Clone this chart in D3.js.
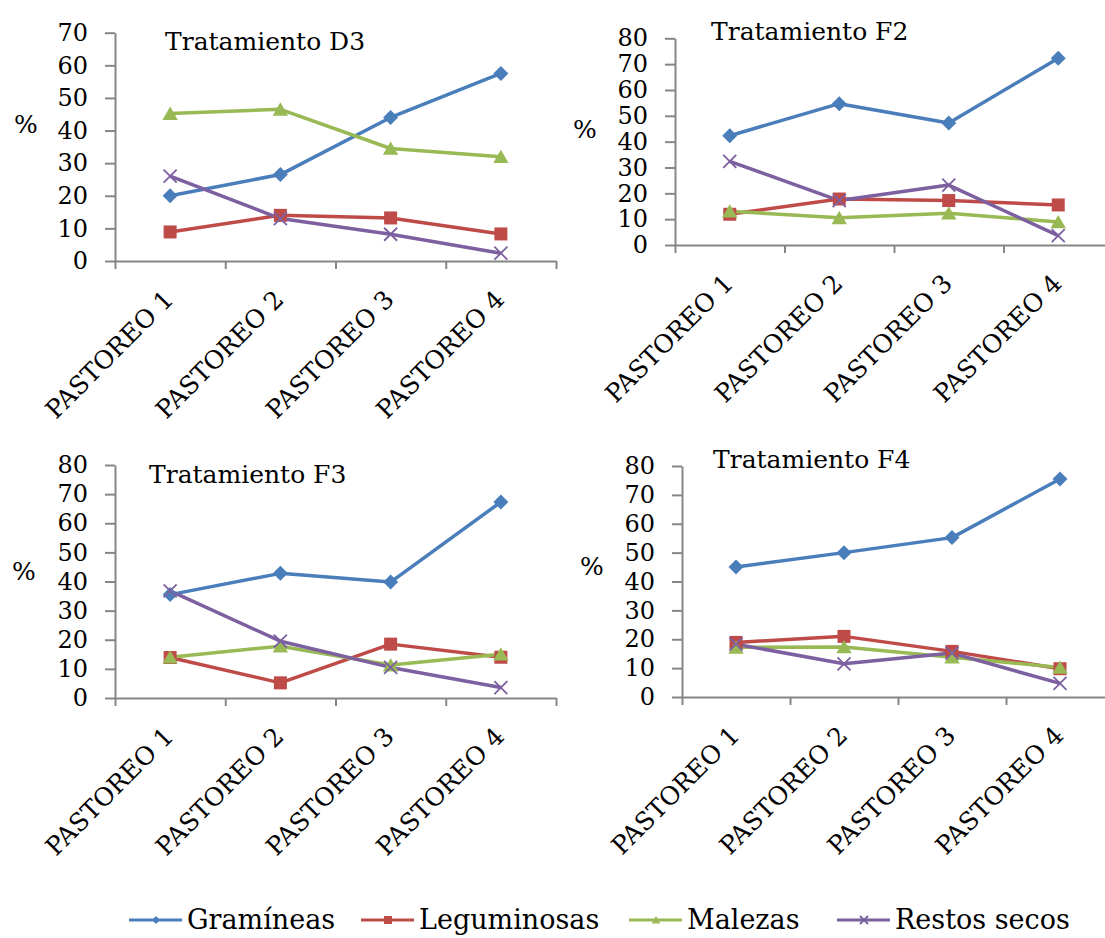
<!DOCTYPE html>
<html>
<head>
<meta charset="utf-8">
<script src="https://cdn.jsdelivr.net/npm/d3@7"></script>
</head>
<body style="margin:0;background:#fff">
<script>
// categorias y series
const categorias = ["PASTOREO 1", "PASTOREO 2", "PASTOREO 3", "PASTOREO 4"];
const series = ["Gramíneas", "Leguminosas", "Malezas", "Restos secos"];
const colores = ["#4A7EBB", "#BE4B48", "#98B954", "#7D60A0"];

// valores (%) por tratamiento, una fila por serie
const tratD3 = [
  [20, 26.5, 44, 57.5],
  [8.9, 14, 13.2, 8.3],
  [45.2, 46.5, 34.5, 32],
  [26, 13, 8.2, 2.4]
];
const tratF2 = [
  [42.3, 54.7, 47.2, 72.3],
  [11.9, 17.8, 17.2, 15.5],
  [13.1, 10.5, 12.3, 8.9],
  [32.4, 17.2, 23.2, 3.6]
];
const tratF3 = [
  [35.5, 42.8, 39.8, 67.3],
  [13.9, 5.2, 18.5, 14],
  [14, 17.8, 11.3, 15],
  [36.8, 19.5, 10.5, 3.6]
];
const tratF4 = [
  [45, 50, 55.2, 75.5],
  [18.9, 21, 15.8, 9.8],
  [17.2, 17.3, 13.8, 10.2],
  [18.3, 11.5, 15.2, 4.7]
];

const paneles = [
  { datos: tratD3, titulo: "Tratamiento D3", yMax: 70, x0: 115, x1: 556, yTop: 32.7, yBot: 261, tx: 165, ty: 50, px: 14, py: 133 },
  { datos: tratF2, titulo: "Tratamiento F2", yMax: 80, x0: 675, x1: 1113, yTop: 38.3, yBot: 245, tx: 711, ty: 40, px: 573, py: 138 },
  { datos: tratF3, titulo: "Tratamiento F3", yMax: 80, x0: 115, x1: 556, yTop: 465, yBot: 698, tx: 149, ty: 483, px: 12, py: 580 },
  { datos: tratF4, titulo: "Tratamiento F4", yMax: 80, x0: 682, x1: 1114, yTop: 466, yBot: 697, tx: 713, ty: 468, px: 580, py: 575 }
];

const fuente = "DejaVu Serif";
const ejeColor = "#868686";

const svg = d3.select("body")
    .append("svg")
    .attr("width", 1105)
    .attr("height", 938)
    .attr("font-family", fuente);

function texto(sel, size) {
  return sel.attr("font-family", fuente).attr("font-size", size).attr("fill", "#000");
}

// marcadores estilo Excel
function marcador(sel, i, s) {
  const c = colores[i];
  if (i === 0) {
    sel.append("path").attr("d", `M0,${-s}L${s},0L0,${s}L${-s},0Z`).attr("fill", c);
  } else if (i === 1) {
    sel.append("rect").attr("x", -s).attr("y", -s).attr("width", 2 * s).attr("height", 2 * s).attr("fill", c);
  } else if (i === 2) {
    sel.append("path").attr("d", `M0,${-s}L${s * 1.1},${s * 0.9}L${-s * 1.1},${s * 0.9}Z`).attr("fill", c);
  } else {
    sel.append("path").attr("d", `M${-s},${-s}L${s},${s}M${s},${-s}L${-s},${s}`)
      .attr("stroke", c).attr("stroke-width", 1.8).attr("fill", "none");
  }
}

paneles.forEach(p => {
  const g = svg.append("g");

  const x = d3.scaleBand().domain(categorias).range([p.x0, p.x1]).padding(0);
  const y = d3.scaleLinear().domain([0, p.yMax]).range([p.yBot, p.yTop]);
  const xBordes = d3.scaleLinear().domain([0, categorias.length]).range([p.x0, p.x1]);

  // eje Y
  const ejeY = g.append("g")
      .attr("transform", `translate(${p.x0},0)`)
      .call(d3.axisLeft(y)
        .tickValues(d3.range(0, p.yMax + 1, 10))
        .tickSize(10)
        .tickPadding(17)
        .tickSizeOuter(0))
      .attr("font-family", null)
      .attr("font-size", null);
  ejeY.select(".domain").attr("stroke", ejeColor).attr("stroke-width", 2);
  ejeY.selectAll(".tick line").attr("stroke", ejeColor).attr("stroke-width", 2);
  texto(ejeY.selectAll(".tick text"), 24);

  // eje X
  const ejeX = g.append("g")
      .attr("transform", `translate(0,${p.yBot})`)
      .call(d3.axisBottom(xBordes)
        .tickValues(d3.range(0, categorias.length + 1))
        .tickFormat("")
        .tickSize(8)
        .tickSizeOuter(0));
  ejeX.select(".domain").attr("stroke", ejeColor).attr("stroke-width", 2);
  ejeX.selectAll(".tick line").attr("stroke", ejeColor).attr("stroke-width", 2);

  g.selectAll(".cat")
    .data(categorias)
    .join("text")
      .attr("class", "cat")
      .attr("text-anchor", "end")
      .attr("transform", d => `translate(${x(d) + x.bandwidth() / 2 + 5},${p.yBot + 40}) rotate(-45)`)
      .text(d => d)
      .call(texto, 25);

  // titulo y etiqueta %
  g.append("text").attr("x", p.tx).attr("y", p.ty).text(p.titulo).call(texto, 25);
  g.append("text").attr("x", p.px).attr("y", p.py).text("%").call(texto, 25);

  // lineas
  const linea = d3.line()
      .x((d, j) => x(categorias[j]) + x.bandwidth() / 2)
      .y(d => y(d));

  p.datos.forEach((vals, i) => {
    g.append("path")
      .datum(vals)
      .attr("fill", "none")
      .attr("stroke", colores[i])
      .attr("stroke-width", 3.5)
      .attr("stroke-linejoin", "round")
      .attr("d", linea);
  });

  p.datos.forEach((vals, i) => {
    g.selectAll(null)
      .data(vals)
      .join("g")
        .attr("transform", (d, j) => `translate(${x(categorias[j]) + x.bandwidth() / 2},${y(d)})`)
        .each(function() { marcador(d3.select(this), i, [7.5, 6.5, 7, 6.5][i]); });
  });
});

// leyenda
const leyendaX = [129, 361, 629, 837];
const leyendaY = 920;
series.forEach((s, i) => {
  const lg = svg.append("g").attr("transform", `translate(${leyendaX[i]},${leyendaY})`);
  lg.append("line").attr("x1", 0).attr("x2", 53).attr("y1", 0).attr("y2", 0)
    .attr("stroke", colores[i]).attr("stroke-width", 3);
  const m = lg.append("g").attr("transform", "translate(27,0)");
  marcador(m, i, 4);
  lg.append("text").attr("x", 58).attr("y", 9).text(s).call(texto, 27);
});
</script>
</body>
</html>
